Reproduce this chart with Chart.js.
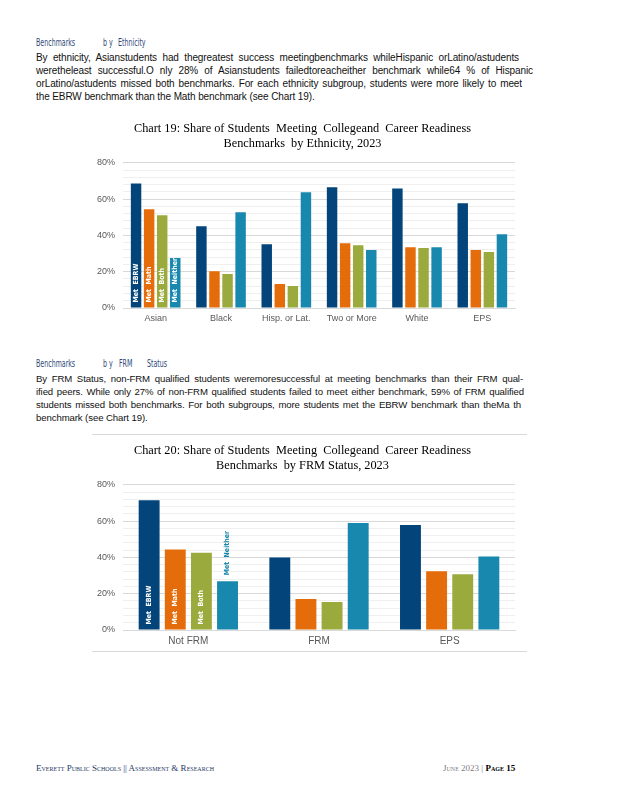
<!DOCTYPE html>
<html>
<head>
<meta charset="utf-8">
<script src="https://cdn.jsdelivr.net/npm/chart.js@4.4.1/dist/chart.umd.min.js"></script>
<style>
body { margin:0; background:#fff; width:618px; height:800px; position:relative; overflow:hidden; font-family:"Liberation Sans", Arial, sans-serif; }
.head { position:absolute; font-family:"Liberation Sans Narrow","DejaVu Sans Condensed",sans-serif; font-size:10px; color:#2F4A7A; white-space:pre; transform:scaleX(0.7); transform-origin:left top; }
.para { position:absolute; left:36px; font-size:10px; letter-spacing:-0.1px; line-height:13px; color:#111; }
.para.small { font-size:9.6px; }
.para div { text-align:justify; text-align-last:justify; white-space:normal; }
.para div.last { text-align-last:left; }
.box { position:absolute; left:90px; }
.rule { position:absolute; left:92px; width:435px; height:1px; background:#d9d9d9; }
.foot { position:absolute; top:763px; font-family:"Liberation Serif","Times New Roman",serif; font-size:9px; font-variant:small-caps; white-space:pre; }
</style>
</head>
<body>

<div class="head" style="top:37px; left:36px;">Benchmarks</div>
<div class="head" style="top:37px; left:103px;">b y</div>
<div class="head" style="top:37px; left:118px;">Ethnicity</div>
<div class="para" style="top:51px;">
  <div style="width:483px;">By ethnicity, Asianstudents had thegreatest success meetingbenchmarks whileHispanic orLatino/astudents</div>
  <div style="width:497px;">weretheleast successful.O nly 28% of Asianstudents failedtoreacheither benchmark while64 % of Hispanic</div>
  <div style="width:486px;">orLatino/astudents missed both benchmarks. For each ethnicity subgroup, students were more likely to meet</div>
  <div class="last">the EBRW benchmark than the Math benchmark (see Chart 19).</div>
</div>

<div class="box" style="top:116px;"><canvas id="chart19" width="437" height="210"></canvas></div>

<div class="head" style="top:358px; left:36px;">Benchmarks</div>
<div class="head" style="top:358px; left:103px;">b y</div>
<div class="head" style="top:358px; left:119px;">FRM</div>
<div class="head" style="top:358px; left:147px;">Status</div>
<div class="para small" style="top:372px;">
  <div style="width:487px;">By FRM Status, non-FRM qualified students weremoresuccessful at meeting benchmarks than their FRM qual-</div>
  <div style="width:488px;">ified peers. While only 27% of non-FRM qualified students failed to meet either benchmark, 59% of FRM qualified</div>
  <div style="width:485px;">students missed both benchmarks. For both subgroups, more students met the EBRW benchmark than theMa th</div>
  <div class="last">benchmark (see Chart 19).</div>
</div>

<div class="rule" style="top:434px;"></div>
<div class="box" style="top:438px;"><canvas id="chart20" width="437" height="210"></canvas></div>
<div class="rule" style="top:651px;"></div>

<div class="foot" style="left:36px; color:#1F3864;">Everett Public Schools || Assessment &amp; Research</div>
<div class="foot" style="left:443px; color:#7f7f7f;">June 2023 | <b style="color:#000;">Page 15</b></div>

<script>
// series names and colours
const seriesNames = ['Met EBRW', 'Met Math', 'Met Both', 'Met Neither'];
const seriesColors = ['#03457A', '#E46C0A', '#9AAA3C', '#1888AE'];
const yTickLabels = ['0%', '20%', '40%', '60%', '80%'];

// Chart 19: by ethnicity
const ethnicities = ['Asian', 'Black', 'Hisp. or Lat.', 'Two or More', 'White', 'EPS'];
const ethEBRW    = [68.6, 45.0, 35.1, 66.5, 65.9, 57.7];
const ethMath    = [54.4, 20.3, 13.2, 35.7, 33.5, 31.9];
const ethBoth    = [51.1, 18.7, 12.1, 34.6, 33.0, 30.8];
const ethNeither = [27.5, 52.7, 63.7, 31.9, 33.5, 40.6];

// Chart 20: by FRM status
const frmGroups  = ['Not FRM', 'FRM', 'EPS'];
const frmEBRW    = [71.5, 39.9, 57.9];
const frmMath    = [44.3, 17.1, 32.3];
const frmBoth    = [42.6, 15.4, 30.7];
const frmNeither = [26.8, 59.0, 40.5];

const serif = '"Liberation Serif", "Times New Roman", serif';
const sans = '"Liberation Sans", Arial, sans-serif';

// vertical series names drawn on the first group of bars
const barText = {
    id: 'barText',
    afterDatasetsDraw(chart, args, opts) {
        const ctx = chart.ctx;
        ctx.save();
        ctx.font = 'bold 7px "DejaVu Sans Condensed", "Liberation Sans Narrow", sans-serif';
        ctx.textBaseline = 'middle';
        ctx.textAlign = 'left';
        chart.data.datasets.forEach((ds, i) => {
            const bar = chart.getDatasetMeta(i).data[0];
            const outside = (opts.outside || []).includes(i);
            ctx.save();
            ctx.translate(bar.x, outside ? bar.y - 6 : bar.base - 5);
            ctx.rotate(-Math.PI / 2);
            ctx.fillStyle = outside ? ds.backgroundColor : '#fff';
            ctx.fillText(ds.label.replace(' ', '  '), 0, 0);
            ctx.restore();
        });
        ctx.restore();
    }
};

function makeChart(id, labels, series, titleLines, xFont, outside) {
    const ctx = document.getElementById(id).getContext('2d');
    return new Chart(ctx, {
        type: 'bar',
        data: {
            labels: labels,
            datasets: series.map((d, i) => ({
                label: seriesNames[i],
                data: d,
                backgroundColor: seriesColors[i],
                categoryPercentage: 0.8,
                barPercentage: 0.8
            }))
        },
        options: {
            responsive: false,
            animation: false,
            layout: { padding: { left: 0, right: 12, bottom: 0 } },
            plugins: {
                legend: { display: false },
                tooltip: { enabled: false },
                title: {
                    display: true,
                    text: titleLines,
                    color: '#000',
                    font: { family: serif, size: 12.3, weight: 'normal', lineHeight: 1.17 },
                    padding: { top: 6, bottom: 12 }
                },
                barText: { outside: outside }
            },
            scales: {
                x: {
                    afterFit: (scale) => { scale.height = 18; },
                    grid: { display: false, drawTicks: false },
                    border: { color: '#d9d9d9' },
                    ticks: { color: '#595959', font: { family: sans, size: xFont }, padding: 5 }
                },
                y: {
                    min: 0,
                    max: 80,
                    afterFit: (scale) => { scale.width = 33; },
                    border: { display: false },
                    grid: {
                        drawTicks: false,
                        color: (c) => (c.tick && c.tick.value % 20 === 0) ? '#d9d9d9' : '#efefef'
                    },
                    ticks: {
                        stepSize: 4,
                        autoSkip: false,
                        padding: 8,
                        color: '#595959',
                        font: { family: sans, size: 9 },
                        callback: (v) => v % 20 === 0 ? yTickLabels[v / 20] : ''
                    }
                }
            }
        },
        plugins: [barText]
    });
}

makeChart('chart19', ethnicities, [ethEBRW, ethMath, ethBoth, ethNeither],
    ['Chart 19: Share of Students  Meeting  Collegeand  Career Readiness', 'Benchmarks  by Ethnicity, 2023'], 9, []);
makeChart('chart20', frmGroups, [frmEBRW, frmMath, frmBoth, frmNeither],
    ['Chart 20: Share of Students  Meeting  Collegeand  Career Readiness', 'Benchmarks  by FRM Status, 2023'], 10, [3]);
</script>
</body>
</html>
